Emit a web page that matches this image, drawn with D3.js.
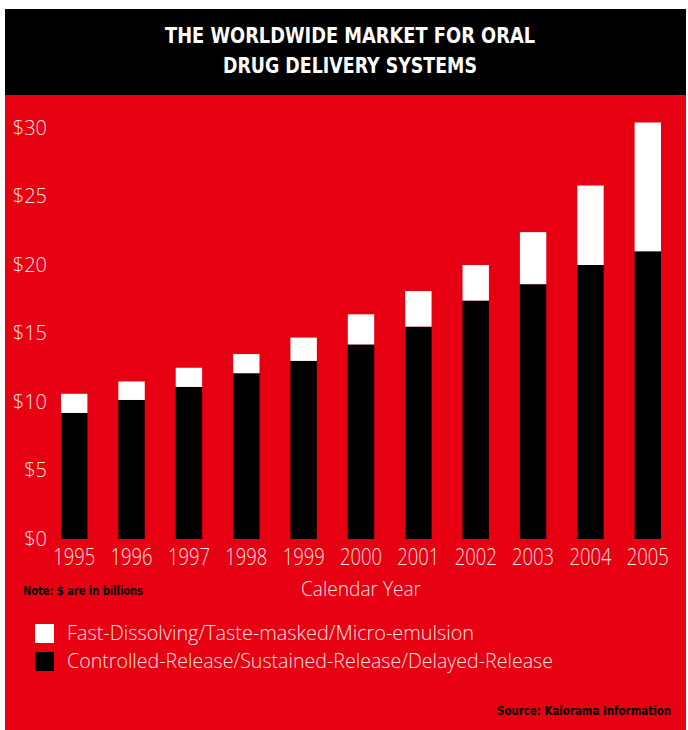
<!DOCTYPE html>
<html>
<head>
<meta charset="utf-8">
<script src="https://cdn.jsdelivr.net/npm/d3@7"></script>
<style>
  body { margin:0; background:#fff; }
  svg text { font-family: "Open Sans", "Lato", sans-serif; }
</style>
</head>
<body>
<div id="content"></div>
<script>
const years = ["1995","1996","1997","1998","1999","2000","2001","2002","2003","2004","2005"];
// controlled / sustained / delayed release ($ billions)
const controlled = [9.2, 10.15, 11.1, 12.1, 13.0, 14.2, 15.5, 17.4, 18.6, 20.0, 21.0];
// fast-dissolving / taste-masked / micro-emulsion ($ billions)
const fastDiss = [1.4, 1.35, 1.4, 1.4, 1.7, 2.2, 2.6, 2.6, 3.8, 5.8, 9.4];
const yTicks = [0, 5, 10, 15, 20, 25, 30];
const seriesNames = ["Fast-Dissolving/Taste-masked/Micro-emulsion",
                     "Controlled-Release/Sustained-Release/Delayed-Release"];
const titleLines = ["THE WORLDWIDE MARKET FOR ORAL", "DRUG DELIVERY SYSTEMS"];

const W = 688, H = 730;
const RED = "#e60012", LIGHT = "#fbe3e3";

const svg = d3.select("#content").append("svg")
    .attr("width", W).attr("height", H);

svg.append("rect").attr("x",5).attr("y",95).attr("width",681).attr("height",635).attr("fill",RED);
svg.append("rect").attr("x",5).attr("y",9).attr("width",681).attr("height",86).attr("fill","#000");

svg.selectAll(".title").data(titleLines).enter()
  .append("text")
    .attr("class","title")
    .attr("x", 350)
    .attr("y", (d,i) => 43 + i*30)
    .attr("text-anchor","middle")
    .attr("fill","#fff")
    .style("font-family", '"Liberation Sans Narrow","DejaVu Sans Condensed",sans-serif')
    .style("font-weight","bold")
    .style("font-size","22px")
    .attr("textLength", (d,i) => i ? 254 : 370)
    .attr("lengthAdjust","spacingAndGlyphs")
    .text(d => d);

const x = d3.scaleBand().domain(years).range([61, 661]).paddingInner(0.54).paddingOuter(0);
const y = d3.scaleLinear().domain([0, 30]).range([539, 128]);

const data = years.map((yr,i) => ({year: yr, controlled: controlled[i], fast: fastDiss[i]}));
const stack = d3.stack().keys(["controlled","fast"])(data);
const colors = {controlled: "#000", fast: "#fff"};

svg.selectAll(".series").data(stack).enter()
  .append("g")
    .attr("fill", d => colors[d.key])
  .selectAll("rect").data(d => d).enter()
  .append("rect")
    .attr("x", d => x(d.data.year))
    .attr("width", x.bandwidth())
    .attr("y", d => y(d[1]))
    .attr("height", d => y(d[0]) - y(d[1]));

const yAxis = svg.append("g")
    .attr("transform","translate(50,0)")
    .call(d3.axisLeft(y).tickValues(yTicks).tickSize(0).tickPadding(3).tickFormat(d => "$" + d));
yAxis.select(".domain").remove();
yAxis.selectAll("text")
    .attr("fill", LIGHT)
    .style("font-family", '"Open Sans", sans-serif')
    .style("font-weight", 300)
    .style("font-size","20px");

const xAxis = svg.append("g")
    .attr("transform","translate(0,549)")
    .call(d3.axisBottom(x).tickSize(0).tickPadding(0));
xAxis.select(".domain").remove();
xAxis.selectAll("text")
    .attr("fill", LIGHT)
    .attr("dy","0.71em")
    .style("font-family", '"Open Sans", sans-serif')
    .style("font-weight", 300)
    .style("font-size","23px")
    .attr("textLength", 42)
    .attr("lengthAdjust","spacingAndGlyphs");

svg.append("text")
    .attr("x", 361).attr("y", 596)
    .attr("text-anchor","middle")
    .attr("fill", LIGHT)
    .style("font-weight", 300)
    .style("font-size","20px")
    .attr("textLength", 120)
    .attr("lengthAdjust","spacingAndGlyphs")
    .text("Calendar Year");

svg.append("text")
    .attr("x", 23).attr("y", 595)
    .attr("fill","#000")
    .style("font-family", '"Liberation Sans Narrow","DejaVu Sans Condensed",sans-serif')
    .style("font-weight","bold")
    .style("font-size","12px")
    .attr("textLength", 120)
    .attr("lengthAdjust","spacingAndGlyphs")
    .text("Note: $ are in billions");

const legend = svg.selectAll(".legend").data(seriesNames).enter()
  .append("g")
    .attr("class","legend")
    .attr("transform", (d,i) => `translate(35,${624 + i*28})`);
legend.append("rect")
    .attr("width",19).attr("height",19)
    .attr("fill", (d,i) => i ? "#000" : "#fff");
legend.append("text")
    .attr("x", 32).attr("y", 16)
    .attr("fill", LIGHT)
    .style("font-weight", 300)
    .style("font-size","20px")
    .attr("textLength", (d,i) => i ? 486 : 407)
    .attr("lengthAdjust","spacingAndGlyphs")
    .text(d => d);

svg.append("text")
    .attr("x", 671).attr("y", 715)
    .attr("text-anchor","end")
    .attr("fill","#000")
    .style("font-family", '"Liberation Sans Narrow","DejaVu Sans Condensed",sans-serif')
    .style("font-weight","bold")
    .style("font-size","12px")
    .attr("textLength", 174)
    .attr("lengthAdjust","spacingAndGlyphs")
    .text("Source: Kalorama Information");
</script>
</body>
</html>
